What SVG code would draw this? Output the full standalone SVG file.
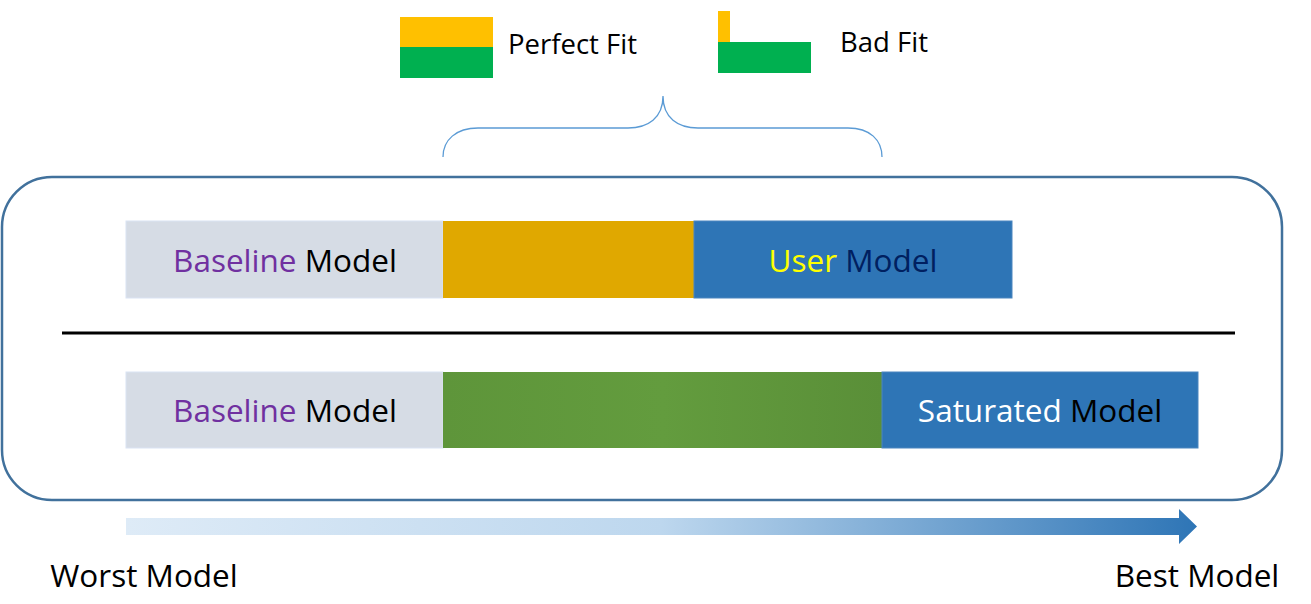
<svg xmlns="http://www.w3.org/2000/svg" width="1311" height="604" viewBox="0 0 1311 604">
<style>
text{font-family:"Open Sans","Noto Sans","Liberation Sans",sans-serif;}
.lbl{font-size:31.5px;text-anchor:middle;}
.leg{font-size:27.5px;fill:#000;}
.base{fill:#d6dce5;stroke:#dae3f3;stroke-width:1;}
.blue{fill:#2e75b6;stroke:#4a86bf;stroke-width:1;}
</style>
<defs>
<linearGradient id="arr" x1="0" y1="0" x2="1" y2="0">
<stop offset="0" stop-color="#deebf7"/>
<stop offset="0.5" stop-color="#bdd7ee"/>
<stop offset="1" stop-color="#2e75b6"/>
</linearGradient>
<linearGradient id="grn" x1="0" y1="0" x2="1" y2="0">
<stop offset="0" stop-color="#5e953a"/>
<stop offset="0.5" stop-color="#639c3e"/>
<stop offset="1" stop-color="#5a8f38"/>
</linearGradient>
</defs>
<g id="legend-perfect">
<rect x="400" y="17" width="93" height="30" fill="#ffc000"/>
<rect x="400" y="47" width="93" height="31" fill="#00b050"/>
<text class="leg" x="508" y="54">Perfect Fit</text>
</g>
<g id="legend-bad">
<rect x="718" y="11" width="12" height="31" fill="#ffc000"/>
<rect x="718" y="42" width="93" height="31" fill="#00b050"/>
<text class="leg" x="840" y="52">Bad Fit</text>
</g>
<g id="brace">
<path d="M443,157 C443,140 456,128 478,128 L628,128 C648,128 663,118 663,96 C663,118 678,128 698,128 L848,128 C870,128 882,140 882,157" fill="none" stroke="#5b9bd5" stroke-width="1.3"/>
</g>
<g id="frame">
<rect x="2" y="177" width="1280" height="323" rx="50" ry="50" fill="none" stroke="#41719c" stroke-width="2.5"/>
</g>
<g id="row-top">
<rect class="base" x="126" y="221" width="317" height="77"/>
<text class="lbl" x="285" y="272"><tspan fill="#7030a0">Baseline</tspan><tspan fill="#000"> Model</tspan></text>
<rect x="443" y="221" width="251" height="77" fill="#e0a800"/>
<rect class="blue" x="694" y="221" width="318" height="77"/>
<text class="lbl" x="853" y="272"><tspan fill="#ffff00">User</tspan><tspan fill="#002060"> Model</tspan></text>
</g>
<g id="divider">
<line x1="62" y1="333" x2="1235" y2="333" stroke="#000" stroke-width="3"/>
</g>
<g id="row-bottom">
<rect class="base" x="126" y="372" width="317" height="76"/>
<text class="lbl" x="285" y="422"><tspan fill="#7030a0">Baseline</tspan><tspan fill="#000"> Model</tspan></text>
<rect x="443" y="372" width="439" height="76" fill="url(#grn)"/>
<rect class="blue" x="882" y="372" width="316" height="76"/>
<text class="lbl" x="1040" y="422"><tspan fill="#ffffff">Saturated</tspan><tspan fill="#000"> Model</tspan></text>
</g>
<g id="scale">
<path d="M126,518 L1179,518 L1179,509 L1197,526.5 L1179,544 L1179,535 L126,535 Z" fill="url(#arr)"/>
<text class="lbl" x="144" y="587" fill="#000">Worst Model</text>
<text class="lbl" x="1197" y="587" fill="#000">Best Model</text>
</g>
</svg>
